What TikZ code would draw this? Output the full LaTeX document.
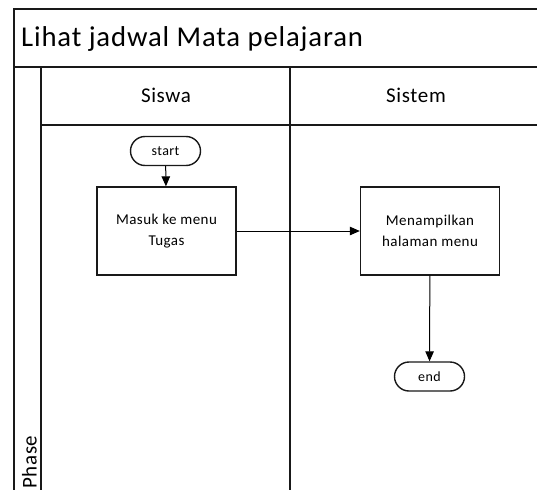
\documentclass[tikz,border=0pt]{standalone}
\usepackage{fontspec}
\setmainfont{Carlito}[LetterSpace=3]
\usetikzlibrary{arrows.meta}
\tikzset{
  frameline/.style={line width=1.6pt, draw=black!90},
  stepbox/.style={draw=black!90, line width=1.4pt, fill=white, minimum width=139pt, minimum height=88pt, align=center, inner sep=2pt, font=\fontsize{15}{20.5}\selectfont},
  termbox/.style={draw=black!90, line width=1.4pt, fill=white, rounded corners=14.5pt, minimum width=70pt, minimum height=29pt, inner sep=0pt, font=\fontsize{14}{16}\selectfont},
  flow/.style={line width=1pt, draw=black, -{Triangle[length=10pt,width=8.5pt]}},
  lanehead/.style={font=\fontsize{21}{24}\selectfont, inner sep=0pt}
}
\begin{document}
\begin{tikzpicture}[x=1pt,y=-1pt]
\useasboundingbox (0,0) rectangle (537,489);
\clip (0,0) rectangle (537,489);
% frame
\draw[frameline] (14,495) -- (14,9) -- (545,9);
\draw[frameline] (14,67) -- (545,67);
\draw[frameline] (41,67) -- (41,495);
\draw[frameline] (290,67) -- (290,495);
\draw[frameline] (41,125) -- (545,125);
% texts of frame
\node[anchor=base west, inner sep=0pt, font=\fontsize{28.7}{32}\selectfont] (title) at (21,47) {Lihat jadwal Mata pelajaran};
\node[lanehead] (siswa) at (166,95) {Siswa};
\node[lanehead] (sistem) at (416,95) {Sistem};
\node[rotate=90, anchor=base west, inner sep=0pt, font=\fontsize{21}{24}\selectfont] (phase) at (36.5,489) {Phase};
% flow nodes
\node[termbox] (start) at (165.5,151) {start};
\node[stepbox] (masuk) at (166.5,231) {Masuk ke menu\\Tugas};
\node[stepbox] (tampil) at (430,231) {Menampilkan\\halaman menu};
\node[termbox] (end) at (429.5,376.5) {end};
% connectors
\draw[flow] (start) -- (masuk);
\draw[flow] (masuk) -- (tampil);
\draw[flow] (tampil) -- (end);
\end{tikzpicture}
\end{document}
